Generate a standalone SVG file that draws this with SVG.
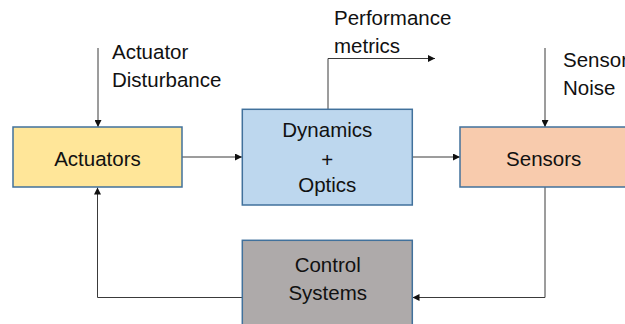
<svg xmlns="http://www.w3.org/2000/svg" width="625" height="324" viewBox="0 0 625 324">
  <style>
    .box { stroke: #41719C; stroke-width: 1.5; }
    .lbl { font-family: "Liberation Sans", Arial, sans-serif; font-size: 20.5px; fill: #111; }
    .mid { text-anchor: middle; }
    .wire { fill: none; stroke: #3a3a3a; stroke-width: 1; }
  </style>
  <defs>
    <marker id="arrow" viewBox="0 0 10 10" refX="10" refY="5" markerWidth="7" markerHeight="7" markerUnits="userSpaceOnUse" orient="auto">
      <path d="M0,0 L10,5 L0,10 Z" fill="#111"/>
    </marker>
  </defs>

  <!-- signal paths -->
  <g id="connectors">
    <path class="wire" d="M98,48 V127" marker-end="url(#arrow)"/>
    <path class="wire" d="M545,48 V127" marker-end="url(#arrow)"/>
    <path class="wire" d="M182,157 H242" marker-end="url(#arrow)"/>
    <path class="wire" d="M412,157 H460" marker-end="url(#arrow)"/>
    <path class="wire" d="M328,109 V58.5 H435" marker-end="url(#arrow)"/>
    <path class="wire" d="M545,187 V297.5 H412.5" marker-end="url(#arrow)"/>
    <path class="wire" d="M242,297.5 H97.5 V187.5" marker-end="url(#arrow)"/>
  </g>

  <!-- free labels -->
  <g id="label-disturbance">
    <text class="lbl" x="112" y="59">Actuator</text>
    <text class="lbl" x="112" y="87">Disturbance</text>
  </g>
  <g id="label-performance">
    <text class="lbl" x="334" y="25">Performance</text>
    <text class="lbl" x="334" y="52.5">metrics</text>
  </g>
  <g id="label-noise">
    <text class="lbl" x="563" y="66.5">Sensor</text>
    <text class="lbl" x="563" y="94.5">Noise</text>
  </g>

  <g id="actuators">
    <rect class="box" x="13" y="127" width="169" height="60" fill="#FFE699"/>
    <text class="lbl mid" x="97.5" y="166">Actuators</text>
  </g>

  <g id="dynamics">
    <rect class="box" x="242.3" y="109.3" width="170" height="95.7" fill="#BDD7EE"/>
    <text class="lbl mid" x="327.3" y="137.3">Dynamics</text>
    <text class="lbl mid" x="327.3" y="166.5">+</text>
    <text class="lbl mid" x="327.3" y="191.7">Optics</text>
  </g>

  <g id="sensors">
    <rect class="box" x="460" y="127" width="170" height="60" fill="#F8CBAD"/>
    <text class="lbl mid" x="543.7" y="165.7">Sensors</text>
  </g>

  <g id="control">
    <rect class="box" x="242.3" y="240.3" width="170" height="100" fill="#AEAAAA"/>
    <text class="lbl mid" x="327.7" y="271.7">Control</text>
    <text class="lbl mid" x="327.7" y="300">Systems</text>
  </g>
</svg>
